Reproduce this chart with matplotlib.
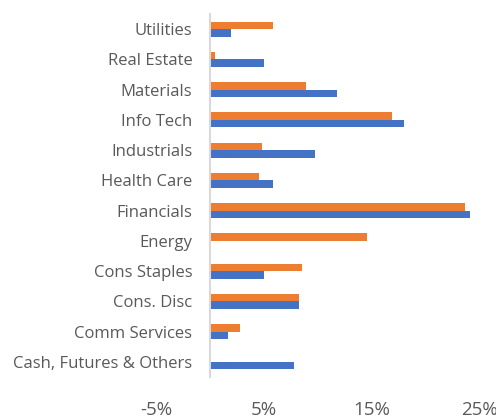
import matplotlib
matplotlib.use("Agg")
import matplotlib.pyplot as plt
import numpy as np

categories = ["Cash, Futures & Others", "Comm Services", "Cons. Disc", "Cons Staples",
              "Energy", "Financials", "Health Care", "Industrials", "Info Tech",
              "Materials", "Real Estate", "Utilities"]
orange_vals = [0.0, 2.8, 8.3, 8.6, 14.6, 23.7, 4.6, 4.8, 16.9, 8.9, 0.5, 5.9]
blue_vals = [7.8, 1.7, 8.3, 5.0, 0.0, 24.2, 5.9, 9.8, 18.0, 11.8, 5.0, 2.0]
xtick_vals = [-5, 5, 15, 25]
xtick_labels = ["-5%", "5%", "15%", "25%"]

plt.rcParams['font.family'] = ['Open Sans', 'DejaVu Sans']

fig = plt.figure(figsize=(4.96, 4.19), dpi=100)
ax = fig.add_axes([156/496, 42/419, (479-156)/496, (377-14)/419])

for s in ['top', 'right', 'bottom']:
    ax.spines[s].set_visible(False)
ax.spines['left'].set_position(('data', 0))
ax.spines['left'].set_color("#D9D9D9")
ax.spines['left'].set_linewidth(1.5)

y = np.arange(len(categories))
h = 0.25
ax.barh(y + h/2, orange_vals, height=h, color="#ED7D31")
ax.barh(y - h/2, blue_vals, height=h, color="#4472C4")

ax.set_xlim(-5, 25)
ax.set_ylim(-0.5, len(categories) - 0.5)
ax.set_yticks(y)
ax.set_yticklabels(categories, fontsize=12, color="#595959")
ax.set_xticks(xtick_vals)
ax.set_xticklabels(xtick_labels, fontsize=13.5, color="#595959")
ax.tick_params(axis='both', length=0)
ax.tick_params(axis='x', pad=17)
ax.tick_params(axis='y', pad=12.5)

fig.savefig("out.png", dpi=100)
